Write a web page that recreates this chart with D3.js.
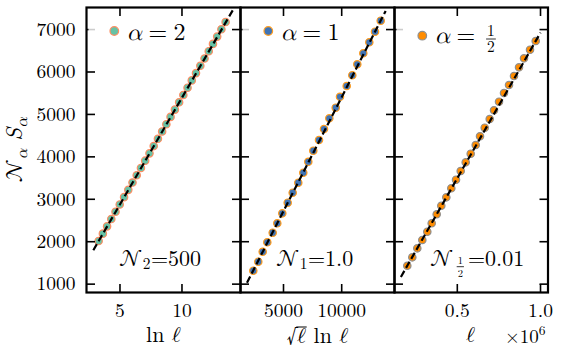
<!DOCTYPE html>
<html><head><meta charset="utf-8">
<script src="https://cdn.jsdelivr.net/npm/d3@7"></script>
<style>
html,body{margin:0;padding:0;background:#fff;}
svg{display:block;}
</style></head>
<body>
<svg id="c" width="562" height="358" font-family="'Latin Modern Roman', 'Latin Modern Math', 'DejaVu Serif', serif"></svg>
<script>
// ---------- data ----------
const yTicks = [1000, 2000, 3000, 4000, 5000, 6000, 7000];

// panel 1: alpha = 2, x = ln l
const lnL = [3.28,3.62,3.96,4.30,4.64,4.98,5.33,5.67,6.01,6.35,6.69,7.03,7.38,7.72,8.06,8.40,8.74,9.08,9.43,9.77,10.11,10.45,10.79,11.13,11.48,11.82,12.16,12.50,12.84,13.18,13.52];
const s2   = [2016,2190,2362,2534,2706,2878,3050,3222,3394,3566,3738,3910,4082,4254,4426,4598,4770,4942,5114,5286,5458,5630,5802,5974,6146,6318,6490,6662,6834,7006,7178];
const fit2X = [2.85, 14.13];
const fit2Y = [1800, 7472];
const ticks1 = [5, 10];

// panel 2: alpha = 1, x = sqrt(l) ln l
const sqrtLlnL = [2406,2835,3213,3608,4072,4467,4897,5361,5790,6271,6701,7131,7560,8050,8479,8935,9485,9854,10430,10911,11340,11856,12371,12861,13351];
const s1       = [1317,1529,1764,1986,2212,2434,2669,2919,3155,3391,3626,3885,4145,4397,4656,4908,5158,5417,5670,5922,6181,6440,6700,6950,7209];
const fit1X = [1863, 13777];
const fit1Y = [1035, 7440];
const ticks2 = [5000, 10000];

// panel 3: alpha = 1/2, x = l
const ell  = [199500,229600,259600,289700,319700,346200,376200,403800,433900,463900,492200,520400,550500,580500,610600,636400,664700,694700,720600,750600,780600,810700,840700,870800,900800,936900,971200];
const sHalf= [1434,1632,1844,2040,2236,2434,2646,2848,3046,3259,3461,3666,3871,4074,4279,4484,4687,4892,5097,5300,5505,5693,5905,6110,6322,6525,6730];
const fitHX = [161000, 1000000];
const fitHY = [1170, 6928];
const ticks3 = [500000, 1000000];
const tickLabels3 = ["0.5", "1.0"];

// ---------- layout ----------
const svg = d3.select("#c");
const yTop = 7.5, yBot = 292.5;
const y = d3.scaleLinear().domain([803, 7520]).range([yBot, yTop]);

const panels = [
  {x0: 86.5, x1: 240.5, dom: [2.30, 14.72], xs: lnL, ys: s2, fx: fit2X, fy: fit2Y,
   ticks: ticks1, fmt: d => String(d), fill: "#66c2a5", edge: "#fc8d62", leg: "2", ann: "2", annVal: "=500", annX: 119},
  {x0: 240.5, x1: 394.5, dom: [1306, 14536], xs: sqrtLlnL, ys: s1, fx: fit1X, fy: fit1Y,
   ticks: ticks2, fmt: d => String(d), fill: "#3f74b6", edge: "#ff9c1e", leg: "1", ann: "1", annVal: "=1.0", annX: 276},
  {x0: 394.5, x1: 548, dom: [122600, 1045000], xs: ell, ys: sHalf, fx: fitHX, fy: fitHY,
   ticks: ticks3, fmt: (d,i) => tickLabels3[i], fill: "#ff8c00", edge: "#8f8f8f", leg: "frac", ann: "frac", annVal: "=0.01", annX: 430}
];

const FS = 19.5;
const defs = svg.append("defs");

function seq(g, x, base, parts) {
  let cx = x;
  parts.forEach(p => {
    if (p.frac) {
      const fs = p.size;
      const a = g.append("text").attr("x", 0).attr("y", base + p.numY).style("font-size", fs + "px").text(p.frac[0]);
      const b = g.append("text").attr("x", 0).attr("y", base + p.denY).style("font-size", fs + "px").text(p.frac[1]);
      const w = Math.max(a.node().getComputedTextLength(), b.node().getComputedTextLength()) + 2;
      a.attr("x", cx + p.pad + w/2).attr("text-anchor", "middle");
      b.attr("x", cx + p.pad + w/2).attr("text-anchor", "middle");
      g.append("line").attr("x1", cx + p.pad).attr("x2", cx + p.pad + w)
        .attr("y1", base + p.barY).attr("y2", base + p.barY).attr("stroke", "#000").attr("stroke-width", 0.8);
      cx += w + p.pad * 2;
    } else {
      const t = g.append("text").attr("x", cx).attr("y", base + (p.dy || 0))
        .style("font-size", p.size + "px").text(p.t);
      if (p.italic) t.style("font-style", "italic");
      cx += t.node().getComputedTextLength() + (p.after || 0);
    }
  });
  return cx;
}

panels.forEach((p, i) => {
  const x = d3.scaleLinear().domain(p.dom).range([p.x0, p.x1]);
  const g = svg.append("g");
  defs.append("clipPath").attr("id", "clip" + i).append("rect")
    .attr("x", p.x0).attr("y", yTop).attr("width", p.x1 - p.x0).attr("height", yBot - yTop);
  const data = g.append("g").attr("clip-path", `url(#clip${i})`);

  data.selectAll("circle").data(p.xs.map((v, k) => [v, p.ys[k]])).join("circle")
    .attr("cx", d => x(d[0])).attr("cy", d => y(d[1])).attr("r", 3.7)
    .attr("fill", p.fill).attr("stroke", p.edge).attr("stroke-width", 1.2);

  data.append("path")
    .attr("d", d3.line().x(d => x(d[0])).y(d => y(d[1]))(p.fx.map((v, k) => [v, p.fy[k]])))
    .attr("fill", "none").attr("stroke", "#000").attr("stroke-width", 2.2).attr("stroke-dasharray", "7,3.4");

  const TL = 8.5;
  yTicks.forEach(v => {
    g.append("line").attr("x1", p.x0).attr("x2", p.x0 + TL).attr("y1", y(v)).attr("y2", y(v))
      .attr("stroke", "#000").attr("stroke-width", 1.6);
    g.append("line").attr("x1", p.x1).attr("x2", p.x1 - TL).attr("y1", y(v)).attr("y2", y(v))
      .attr("stroke", "#000").attr("stroke-width", 1.6);
  });
  p.ticks.forEach((v, k) => {
    g.append("line").attr("x1", x(v)).attr("x2", x(v)).attr("y1", yBot).attr("y2", yBot - TL)
      .attr("stroke", "#000").attr("stroke-width", 1.6);
    g.append("line").attr("x1", x(v)).attr("x2", x(v)).attr("y1", yTop).attr("y2", yTop + TL)
      .attr("stroke", "#000").attr("stroke-width", 1.6);
    g.append("text").attr("x", x(v)).attr("y", 317).attr("text-anchor", "middle")
      .style("font-size", FS + "px").text(p.fmt(v, k));
  });

  g.append("rect").attr("x", p.x0).attr("y", yTop).attr("width", p.x1 - p.x0).attr("height", yBot - yTop)
    .attr("fill", "none").attr("stroke", "#000").attr("stroke-width", 2.2);

  // legend
  const isFrac = p.leg === "frac";
  g.append("rect").attr("x", p.x0 + 2).attr("y", 16).attr("width", 98).attr("height", isFrac ? 42 : 31)
    .attr("fill", "#fff").attr("opacity", 0.8);
  g.append("circle").attr("cx", p.x0 + 27.8).attr("cy", isFrac ? 35.7 : 31).attr("r", 4.3)
    .attr("fill", p.fill).attr("stroke", p.edge).attr("stroke-width", 1.2);
  const lg = g.append("g");
  seq(lg, p.x0 + 40, isFrac ? 43 : 39.5, [{t: "α", size: 24, italic: true, after: 6.5}, {t: "=", size: 24, after: isFrac ? 9 : 6.5}].concat(
    isFrac ? [{frac: ["1", "2"], size: 15.5, pad: 2, numY: -6.8, denY: 9.2, barY: -4}] : [{t: p.leg, size: 24}]));

  // annotation
  const ag = g.append("g");
  const parts = [{t: "𝒩", size: 23, after: isFrac ? 2 : 0.5}];
  if (p.ann === "frac") parts.push({frac: ["1", "2"], size: 10.5, pad: 1.5, numY: -1.5, denY: 11.5, barY: 1.2});
  else parts.push({t: p.ann, size: 15.5, dy: 3.5, after: 0.5});
  if (p.ann === "frac") parts.push({t: "", size: 1, after: 2.5});
  parts.push({t: p.annVal, size: 22});
  seq(ag, p.annX, 265.5, parts);
});

yTicks.forEach(v => {
  svg.append("text").attr("x", 75.5).attr("y", y(v) + 6.3).attr("text-anchor", "end")
    .style("font-size", FS + "px").text(v);
});

svg.append("text").attr("x", 163.5).attr("y", 342).attr("text-anchor", "middle").style("font-size", "22px")
  .text("ln ℓ");
const lab2 = svg.append("text").attr("x", 317.5).attr("y", 343).attr("text-anchor", "middle").style("font-size", "22px")
  .text("√ℓ ln ℓ");
{
  const n = lab2.node();
  const e0 = n.getExtentOfChar(0), e1 = n.getExtentOfChar(1);
  svg.append("line").attr("x1", e0.x + e0.width - 0.8).attr("x2", e1.x + e1.width + 0.5)
    .attr("y1", 343 - 16).attr("y2", 343 - 16).attr("stroke", "#000").attr("stroke-width", 1);
}
svg.append("text").attr("x", 470.5).attr("y", 342).attr("text-anchor", "middle").style("font-size", "22px")
  .text("ℓ");
const off = svg.append("text").attr("x", 505).attr("y", 342.5).style("font-size", "19px");
off.append("tspan").text("×10");
off.append("tspan").attr("dy", -7.5).style("font-size", "13.5px").text("6");

const yl = svg.append("text").attr("transform", "translate(22,150) rotate(-90)").attr("text-anchor", "middle")
  .style("font-size", "23px");
yl.append("tspan").text("𝒩");
yl.append("tspan").attr("dy", 5).style("font-size", "16px").style("font-style", "italic").text("α");
yl.append("tspan").attr("dy", -5).style("font-style", "italic").text(" S");
yl.append("tspan").attr("dy", 5).style("font-size", "16px").style("font-style", "italic").text("α");
</script>
</body></html>
